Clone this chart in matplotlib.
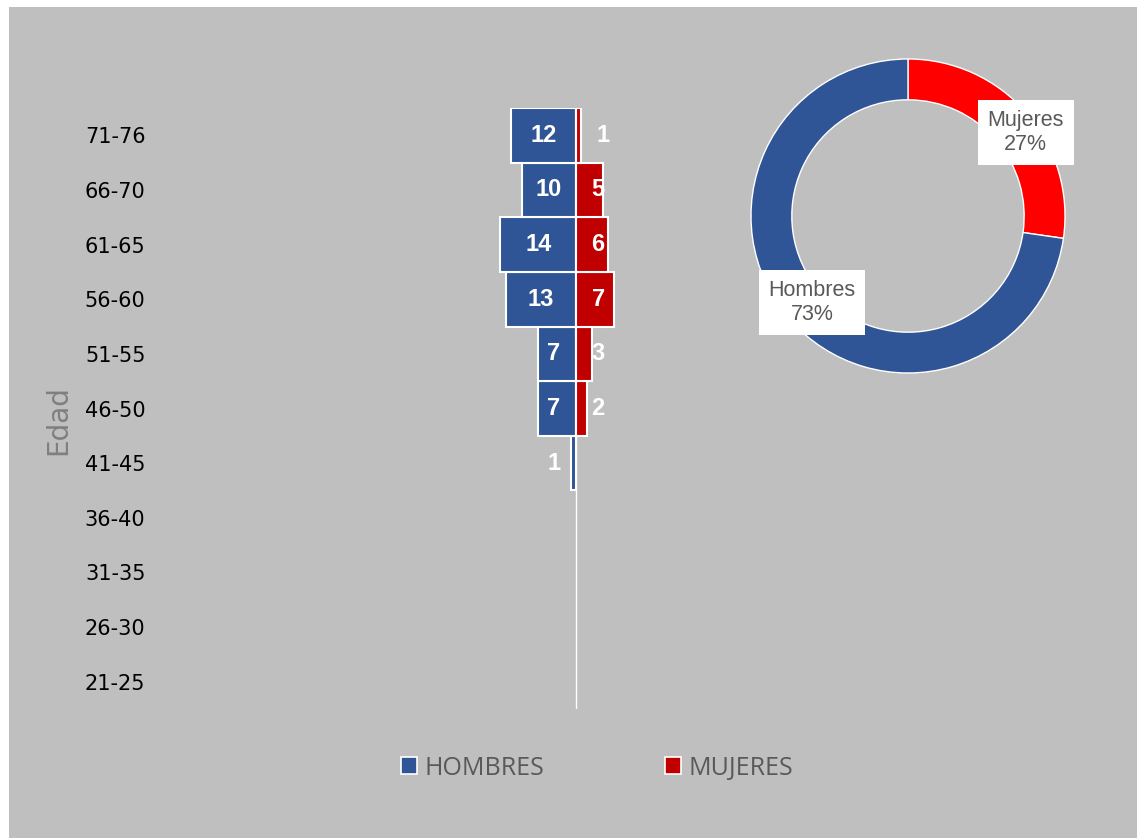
import matplotlib

matplotlib.use("Agg")

import matplotlib.pyplot as plt
from matplotlib.patches import Patch, Rectangle
import numpy as np


# data (bottom row first)
age_groups = [
    "21-25", "26-30", "31-35", "36-40", "41-45", "46-50",
    "51-55", "56-60", "61-65", "66-70", "71-76",
]
hombres = [0, 0, 0, 0, 1, 7, 7, 13, 14, 10, 12]
mujeres = [0, 0, 0, 0, 0, 2, 3, 7, 6, 5, 1]

pie_labels = ["Mujeres", "Hombres"]
pie_values = [sum(mujeres), sum(hombres)]

BLUE = "#2F5597"
DARK_RED = "#C00000"
RED = "#FF0000"
GREY_TEXT = "#595959"
BG = "#BFBFBF"

W, H = 1137, 838


def _fig_box(left, top, right, bottom):
    # pixel box -> figure fraction [l, b, w, h]
    return [left / W, 1 - bottom / H, (right - left) / W, (bottom - top) / H]


fig = plt.figure(figsize=(W / 100, H / 100), dpi=100)
fig.patch.set_facecolor("white")

fig.patches.append(
    Rectangle(
        (9 / W, 0), 1, 1 - 7 / H,
        transform=fig.transFigure,
        facecolor=BG,
        edgecolor="none",
        zorder=-10,
    )
)


# pyramid
ax = fig.add_axes(_fig_box(160, 108, 992, 709))
ax.set_facecolor("none")

y = np.arange(len(age_groups))
men = np.array(hombres)
women = np.array(mujeres)

ax.barh(
    y[men > 0], -men[men > 0],
    height=1.0,
    color=BLUE,
    edgecolor="white",
    linewidth=1.5,
)
ax.barh(
    y[women > 0], women[women > 0],
    height=1.0,
    color=DARK_RED,
    edgecolor="white",
    linewidth=1.5,
)

for yi, v in zip(y, men):
    if v > 0:
        ax.text(
            -max(v / 2, 4.1), yi, str(v),
            ha="center", va="center",
            color="white", fontsize=17, fontweight="bold",
            family="Liberation Sans",
        )

for yi, v in zip(y, women):
    if v > 0:
        ax.text(
            max(v / 2, 4.1) + (0.9 if v == 1 else 0), yi, str(v),
            ha="center", va="center",
            color="white", fontsize=17, fontweight="bold",
            family="Liberation Sans",
        )

ax.axvline(0, color="white", linewidth=1, zorder=0)

ax.set_xlim(-77.04, 77.04)
ax.set_ylim(-0.5, len(age_groups) - 0.5)
ax.set_yticks(y)
ax.set_yticklabels(age_groups, fontsize=15, color="black")
ax.set_xticks([])
ax.tick_params(axis="y", length=0, pad=10.5)
for side in ax.spines.values():
    side.set_visible(False)

fig.text(
    58 / W, 1 - 420 / H, "Edad",
    rotation=90, ha="center", va="center",
    fontsize=20, color="#7F7F7F",
    family=["Liberation Sans Narrow", "DejaVu Sans"],
)


# donut
pax = fig.add_axes(_fig_box(748, 56, 1068, 376))
pax.set_facecolor("none")

wedges, _ = pax.pie(
    pie_values,
    colors=[RED, BLUE],
    startangle=90,
    counterclock=False,
    radius=1.0,
    wedgeprops=dict(width=0.26, edgecolor="white", linewidth=1),
)
pax.set_xlim(-1.019, 1.019)
pax.set_ylim(-1.019, 1.019)
pax.set_aspect("equal")
pax.axis("off")

total = sum(pie_values)
label_pos = [(0.75, 0.53), (-0.61, -0.55)]
for name, v, (lx, ly) in zip(pie_labels, pie_values, label_pos):
    pax.text(
        lx, ly, f"{name}\n{round(100 * v / total)}%",
        ha="center", va="center",
        fontsize=15.5, color=GREY_TEXT,
        family="Liberation Sans",
        linespacing=1.2,
        bbox=dict(boxstyle="square,pad=0.45", facecolor="white", edgecolor="none"),
    )


# legend
handles = [
    Patch(facecolor=BLUE, edgecolor="white", linewidth=1.2),
    Patch(facecolor=DARK_RED, edgecolor="white", linewidth=1.2),
]
fig.legend(
    handles, ["HOMBRES", "MUJERES"],
    loc="center",
    bbox_to_anchor=(597 / W, 1 - 768 / H),
    ncol=2,
    frameon=False,
    prop=dict(family="Open Sans", size=18),
    labelcolor=GREY_TEXT,
    handlelength=0.66,
    handleheight=0.66,
    handletextpad=0.3,
    columnspacing=4.8,
)

fig.savefig("out.png", dpi=100, facecolor=fig.get_facecolor())
plt.close(fig)
